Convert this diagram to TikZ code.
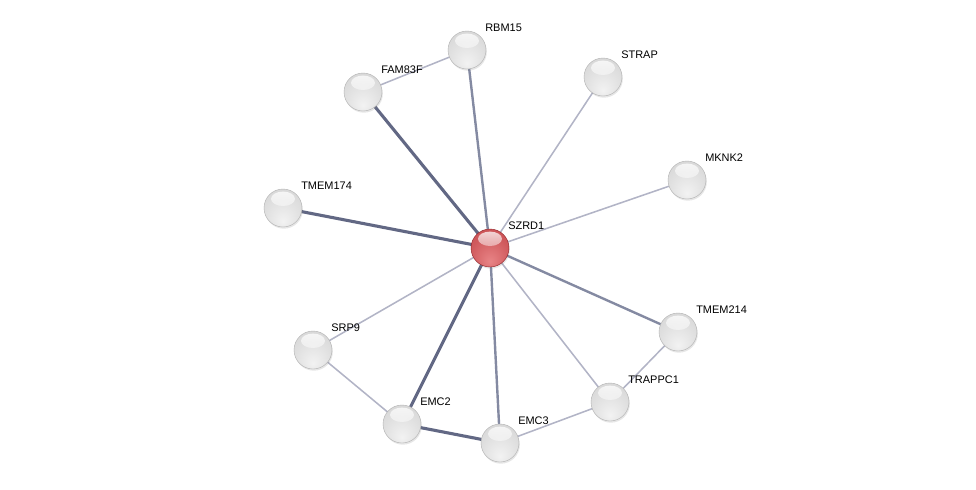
\documentclass[tikz,border=0pt]{standalone}
\usepackage{fontspec}
\setmainfont{Liberation Sans}
\usepackage{xcolor}
\definecolor{edgedark}{RGB}{98,104,132}
\definecolor{edgemid}{RGB}{132,138,162}
\definecolor{edgelight}{RGB}{178,180,198}
\definecolor{redcore}{RGB}{232,132,134}
\definecolor{redmid}{RGB}{200,76,80}
\definecolor{redrim}{RGB}{145,36,40}
\usepackage{tikz}
\usetikzlibrary{backgrounds, shadows, fadings}

\pgfdeclareradialshading{greysphere}{\pgfpoint{0bp}{-18bp}}{%
  color(0bp)=(gray!10); color(24bp)=(gray!25); color(44bp)=(gray!36);
  color(58bp)=(gray!46); color(66bp)=(gray!66)}
\pgfdeclareradialshading{redsphere}{\pgfpoint{0bp}{-18bp}}{%
  color(0bp)=(redcore); color(26bp)=(redmid!75!redcore); color(44bp)=(redmid);
  color(58bp)=(redmid!85!black); color(66bp)=(redrim)}
\tikzfading[name=glossfade, top color=transparent!0, bottom color=transparent!100]

\begin{document}
\begin{tikzpicture}[
  x=0.025cm, y=-0.025cm,
  protein/.style={circle, inner sep=0pt, minimum size=0.95cm, shading=greysphere,
               draw=gray!60, line width=0.3pt,
               drop shadow={opacity=0.2, shadow xshift=0.6pt, shadow yshift=-1.2pt},
               path picture={\fill[white, opacity=0.8, path fading=glossfade]
                 ([yshift=0.23cm]path picture bounding box.center)
                 ellipse [x radius=0.3cm, y radius=0.18cm];}},
  query/.style={protein, shading=redsphere, draw=redrim},
  lbl/.style={anchor=west, inner sep=0pt, font=\fontsize{7.8}{9}\selectfont},
  strong/.style={line width=2.2pt, color=edgedark},
  medium/.style={line width=1.7pt, color=edgemid},
  weak/.style={line width=1.1pt, color=edgelight}
]
\useasboundingbox (0,0) rectangle (976,489);

% proteins
\node[query]   (szrd1)   at (490,248) {};
\node[protein] (rbm15)   at (467,50)  {};
\node[protein] (fam83f)  at (363,92)  {};
\node[protein] (strap)   at (603,77)  {};
\node[protein] (mknk2)   at (687,180) {};
\node[protein] (tmem174) at (283,208) {};
\node[protein] (tmem214) at (678,332) {};
\node[protein] (trappc1) at (610,402) {};
\node[protein] (emc3)    at (500,443) {};
\node[protein] (emc2)    at (402,424) {};
\node[protein] (srp9)    at (313,350) {};

% names
\node[lbl] (t-szrd1)   at ([shift={(18,-22)}]szrd1.center)   {SZRD1};
\node[lbl] (t-rbm15)   at ([shift={(18,-22)}]rbm15.center)   {RBM15};
\node[lbl] (t-fam83f)  at ([shift={(18,-22)}]fam83f.center)  {FAM83F};
\node[lbl] (t-strap)   at ([shift={(18,-22)}]strap.center)   {STRAP};
\node[lbl] (t-mknk2)   at ([shift={(18,-22)}]mknk2.center)   {MKNK2};
\node[lbl] (t-tmem174) at ([shift={(18,-22)}]tmem174.center) {TMEM174};
\node[lbl] (t-tmem214) at ([shift={(18,-22)}]tmem214.center) {TMEM214};
\node[lbl] (t-trappc1) at ([shift={(18,-22)}]trappc1.center) {TRAPPC1};
\node[lbl] (t-emc3)    at ([shift={(18,-22)}]emc3.center)    {EMC3};
\node[lbl] (t-emc2)    at ([shift={(18,-22)}]emc2.center)    {EMC2};
\node[lbl] (t-srp9)    at ([shift={(18,-22)}]srp9.center)    {SRP9};

% interactions
\begin{scope}[on background layer]
  \draw[strong] (szrd1.center) -- (tmem174.center);
  \draw[strong] (szrd1.center) -- (fam83f.center);
  \draw[strong] (szrd1.center) -- (emc2.center);
  \draw[medium] (szrd1.center) -- (emc3.center);
  \draw[medium] (szrd1.center) -- (rbm15.center);
  \draw[medium] (szrd1.center) -- (tmem214.center);
  \draw[weak]   (szrd1.center) -- (strap.center);
  \draw[weak]   (szrd1.center) -- (mknk2.center);
  \draw[weak]   (szrd1.center) -- (srp9.center);
  \draw[weak]   (szrd1.center) -- (trappc1.center);
  \draw[weak]   (fam83f.center) -- (rbm15.center);
  \draw[weak]   (srp9.center) -- (emc2.center);
  \draw[strong] (emc2.center) -- (emc3.center);
  \draw[weak]   (emc3.center) -- (trappc1.center);
  \draw[weak]   (trappc1.center) -- (tmem214.center);
\end{scope}
\end{tikzpicture}
\end{document}
